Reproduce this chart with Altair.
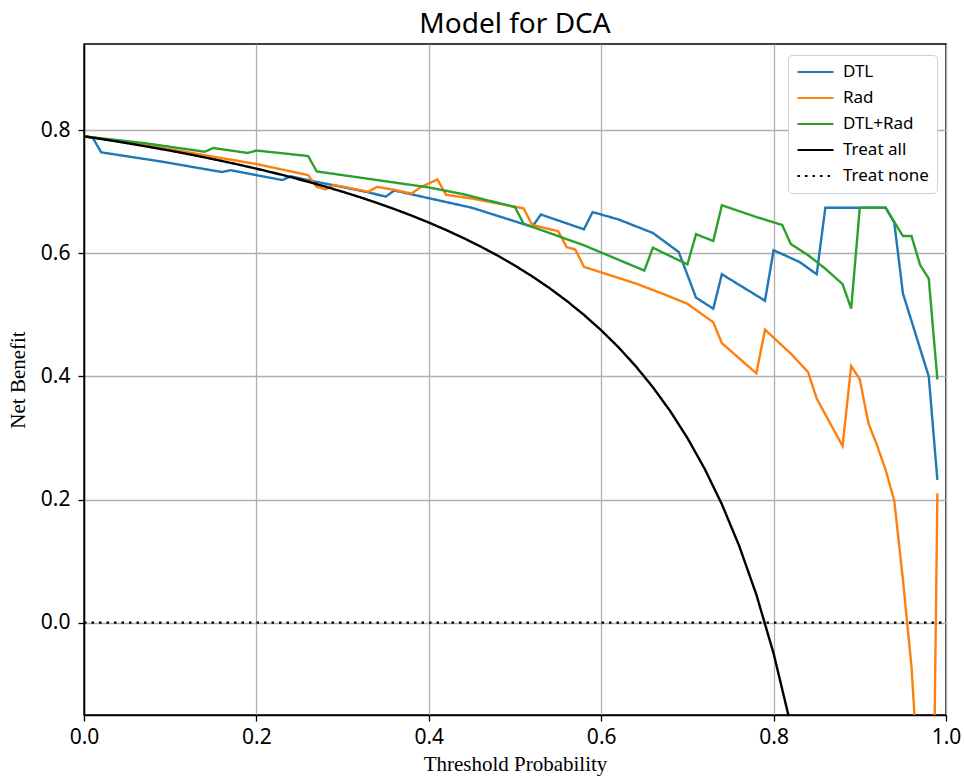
import altair as alt
import pandas as pd

models = ["DTL", "Rad", "DTL+Rad", "Treat all", "Treat none"]
colors = ["#1f77b4", "#ff7f0e", "#2ca02c", "#000000", "#000000"]
dashes = [[1, 0], [1, 0], [1, 0], [1, 0], [2.5, 5]]

x_ticks = [0.0, 0.2, 0.4, 0.6, 0.8, 1.0]
y_ticks = [0.0, 0.2, 0.4, 0.6, 0.8]

dtl_t = [0, 0.01, 0.02, 0.09, 0.16, 0.17, 0.23, 0.24, 0.27, 0.33, 0.35, 0.36, 0.45,
         0.52, 0.53, 0.58, 0.59, 0.62, 0.66, 0.69, 0.71, 0.73, 0.74, 0.79, 0.80, 0.83,
         0.85, 0.86, 0.90, 0.93, 0.94, 0.95, 0.98, 0.99]
dtl_v = [0.790, 0.788, 0.764, 0.749, 0.732, 0.735, 0.719, 0.725, 0.716, 0.699, 0.692,
         0.702, 0.674, 0.643, 0.663, 0.639, 0.667, 0.655, 0.633, 0.602, 0.528, 0.510,
         0.566, 0.523, 0.605, 0.586, 0.566, 0.674, 0.674, 0.674, 0.650, 0.535, 0.400, 0.232]

rad_t = [0, 0.05, 0.10, 0.15, 0.20, 0.26, 0.27, 0.28, 0.29, 0.33, 0.34, 0.36, 0.38,
         0.39, 0.41, 0.42, 0.45, 0.51, 0.52, 0.55, 0.56, 0.57, 0.58, 0.64, 0.67, 0.70,
         0.73, 0.74, 0.78, 0.79, 0.82, 0.84, 0.85, 0.88, 0.89, 0.90, 0.91, 0.92, 0.93,
         0.94, 0.95, 0.96, 0.97, 0.98, 0.99]
rad_v = [0.790, 0.780, 0.769, 0.757, 0.745, 0.727, 0.708, 0.704, 0.711, 0.700, 0.708,
         0.703, 0.697, 0.707, 0.720, 0.695, 0.689, 0.673, 0.646, 0.636, 0.610, 0.606,
         0.578, 0.551, 0.535, 0.518, 0.488, 0.454, 0.405, 0.476, 0.437, 0.407, 0.364,
         0.287, 0.417, 0.395, 0.324, 0.288, 0.248, 0.198, 0.070, -0.072, -0.30, -0.95, 0.21]

both_t = [0, 0.07, 0.14, 0.15, 0.19, 0.20, 0.26, 0.27, 0.33, 0.40, 0.44, 0.50, 0.51,
          0.58, 0.65, 0.66, 0.70, 0.71, 0.73, 0.74, 0.78, 0.81, 0.82, 0.84, 0.86, 0.88,
          0.89, 0.90, 0.93, 0.94, 0.95, 0.96, 0.97, 0.98, 0.99]
both_v = [0.790, 0.779, 0.765, 0.771, 0.763, 0.767, 0.758, 0.733, 0.721, 0.707, 0.696,
          0.675, 0.648, 0.613, 0.572, 0.609, 0.582, 0.631, 0.620, 0.678, 0.659, 0.646,
          0.615, 0.597, 0.575, 0.550, 0.510, 0.674, 0.674, 0.651, 0.628, 0.628, 0.581,
          0.559, 0.395]

all_t = [0.00, 0.02, 0.04, 0.06, 0.08, 0.10, 0.12, 0.14, 0.16, 0.18, 0.20, 0.22, 0.24,
         0.26, 0.28, 0.30, 0.32, 0.34, 0.36, 0.38, 0.40, 0.42, 0.44, 0.46, 0.48, 0.50,
         0.52, 0.54, 0.56, 0.58, 0.60, 0.62, 0.64, 0.66, 0.68, 0.70, 0.72, 0.74, 0.76,
         0.78, 0.80, 0.82]
all_v = [0.7900, 0.7857, 0.7813, 0.7766, 0.7717, 0.7667, 0.7614, 0.7558, 0.7500, 0.7439,
         0.7375, 0.7308, 0.7237, 0.7162, 0.7083, 0.7000, 0.6912, 0.6818, 0.6719, 0.6613,
         0.6500, 0.6379, 0.6250, 0.6111, 0.5962, 0.5800, 0.5625, 0.5435, 0.5227, 0.5000,
         0.4750, 0.4474, 0.4167, 0.3824, 0.3438, 0.3000, 0.2500, 0.1923, 0.1250, 0.0455,
         -0.0500, -0.1667]

none_t = [0.0, 1.0]
none_v = [0.0, 0.0]

rows = []
for name, ts, vs in [("DTL", dtl_t, dtl_v), ("Rad", rad_t, rad_v),
                     ("DTL+Rad", both_t, both_v), ("Treat all", all_t, all_v),
                     ("Treat none", none_t, none_v)]:
    for i, (a, b) in enumerate(zip(ts, vs)):
        rows.append({"model": name, "t": a, "nb": b, "i": i})
df = pd.DataFrame(rows)

legend = alt.Legend(
    title=None, orient="none", legendX=704, legendY=11,
    fillColor="white", strokeColor="#d0d0d0", cornerRadius=4, padding=8,
    symbolType="stroke", symbolSize=1296, symbolStrokeWidth=2.2,
    labelFont="Noto Sans", labelFontSize=17, labelColor="black",
    clipHeight=18, rowPadding=8, labelOffset=8,
)

grid_col = "#b0b0b0"

chart = alt.Chart(df).mark_line(clip=True, strokeWidth=2.4).encode(
    x=alt.X("t:Q", scale=alt.Scale(domain=[0, 1], nice=False),
            axis=alt.Axis(values=x_ticks, format=".1f", title="Threshold Probability",
                          grid=True, gridColor=grid_col, gridWidth=1.3,
                          domainColor="black", domainWidth=1.5, tickColor="black",
                          tickSize=6, tickWidth=1.3, labelFont="Noto Sans",
                          labelFontSize=21, labelColor="black", labelPadding=5,
                          labelFlush=False,
                          titleFont="Liberation Serif", titleFontSize=21,
                          titleFontWeight="normal", titleColor="black", titlePadding=6)),
    y=alt.Y("nb:Q", scale=alt.Scale(domain=[-0.15, 0.94], nice=False, zero=False),
            axis=alt.Axis(values=y_ticks, format=".1f", title="Net Benefit",
                          grid=True, gridColor=grid_col, gridWidth=1.3,
                          domainColor="black", domainWidth=1.5, tickColor="black",
                          tickSize=6, tickWidth=1.3, labelFont="Noto Sans",
                          labelFontSize=21, labelColor="black", labelPadding=8,
                          labelFlush=False,
                          titleFont="Liberation Serif", titleFontSize=21,
                          titleFontWeight="normal", titleColor="black", titlePadding=12)),
    color=alt.Color("model:N", scale=alt.Scale(domain=models, range=colors), legend=legend),
    strokeDash=alt.StrokeDash("model:N", scale=alt.Scale(domain=models, range=dashes),
                              legend=legend),
    order="i:Q",
).properties(
    width=862, height=671,
    title=alt.TitleParams("Model for DCA", font="Noto Sans", fontSize=28,
                          fontWeight="normal", color="black", offset=5),
    autosize=alt.AutoSizeParams(type="none"),
    padding={"left": 84, "top": 44, "right": 18, "bottom": 63},
).configure_view(stroke="black", strokeWidth=1.5)

chart.save("out.html", embed_options={"renderer": "svg", "actions": False})
